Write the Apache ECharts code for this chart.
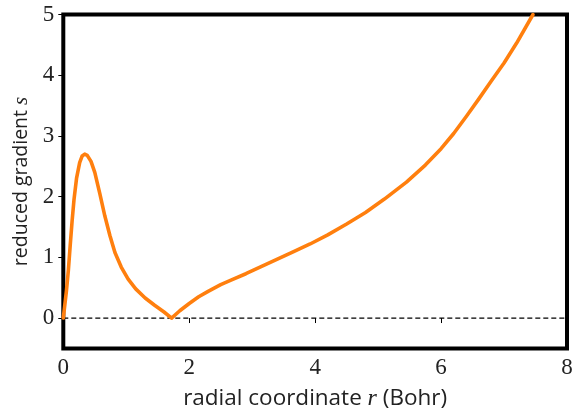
<!DOCTYPE html>
<html>
<head>
<meta charset="utf-8">
<script src="https://cdn.jsdelivr.net/npm/echarts@6/dist/echarts.min.js"></script>
<style>
html,body{margin:0;padding:0;background:#fff;}
#chart{width:585px;height:418px;}
</style>
</head>
<body>
<div id="chart"></div>
<script>
// radial coordinate r (Bohr)
var radius = [0, 0.05, 0.08, 0.11, 0.14, 0.17, 0.21, 0.26, 0.3, 0.34, 0.38, 0.44, 0.5, 0.58,
  0.66, 0.74, 0.82, 0.92, 1.03, 1.15, 1.3, 1.45, 1.6, 1.72,
  1.85, 2.0, 2.15, 2.3, 2.5, 2.7, 2.9, 3.15, 3.4, 3.65, 3.92, 4.2, 4.5, 4.8, 5.1,
  5.45, 5.75, 6.0, 6.2, 6.4, 6.6, 6.8, 7.0, 7.2, 7.46];
// reduced gradient s
var gradient = [0, 0.45, 0.78, 1.2, 1.6, 1.95, 2.3, 2.56, 2.67, 2.70, 2.68, 2.58, 2.40, 2.05,
  1.68, 1.36, 1.08, 0.84, 0.64, 0.48, 0.33, 0.21, 0.1, 0.0,
  0.12, 0.24, 0.35, 0.44, 0.55, 0.64, 0.73, 0.85, 0.97, 1.09, 1.22, 1.37, 1.55, 1.74, 1.96,
  2.24, 2.52, 2.79, 3.04, 3.32, 3.61, 3.91, 4.2, 4.53, 5.0];
var xTicks = [0, 2, 4, 6, 8];
var yTicks = [0, 1, 2, 3, 4, 5];
var baselineR = [0, 8];
var baselineS = [0, 0];

var curve = radius.map(function (r, i) { return [r, gradient[i]]; });
var baseline = baselineR.map(function (r, i) { return [r, baselineS[i]]; });

var chart = echarts.init(document.getElementById('chart'), null, {renderer: 'canvas'});
var tickFont = {fontFamily: 'Liberation Serif', fontSize: 23, color: '#222'};
chart.setOption({
  animation: false,
  backgroundColor: '#fff',
  grid: {left: 63.3, right: 18, top: 14.5, bottom: 69.6, show: true, borderColor: '#000', borderWidth: 4, backgroundColor: 'transparent'},
  xAxis: {
    type: 'value', min: xTicks[0], max: xTicks[xTicks.length - 1], interval: 2,
    axisLine: {show: false},
    axisTick: {show: true, inside: false, length: 5, lineStyle: {color: '#000', width: 1}},
    splitLine: {show: false},
    axisLabel: Object.assign({margin: 8}, tickFont),
    name: 'radial coordinate {i|r} (Bohr)',
    nameLocation: 'middle', nameGap: 38,
    nameTextStyle: {fontFamily: 'Open Sans', fontSize: 22.5, color: '#222',
      rich: {i: {fontFamily: 'Liberation Serif', fontStyle: 'italic', fontSize: 24, color: '#222'}}}
  },
  yAxis: {
    type: 'value', min: -0.5, max: 5,
    axisLine: {show: false},
    axisTick: {show: true, inside: false, length: 5, lineStyle: {color: '#000', width: 1}, customValues: yTicks},
    splitLine: {show: false},
    axisLabel: Object.assign({margin: 9, customValues: yTicks}, tickFont),
    name: 'reduced gradient {i|s}',
    nameLocation: 'middle', nameGap: 25, nameRotate: 90,
    nameTextStyle: {fontFamily: 'Open Sans', fontSize: 19.5, color: '#222',
      rich: {i: {fontFamily: 'Liberation Serif', fontStyle: 'italic', fontSize: 21, color: '#222'}}}
  },
  series: [
    {
      type: 'line', data: baseline, symbol: 'none', silent: true,
      lineStyle: {color: '#000', width: 1.3, type: [5, 3]}, z: 1
    },
    {
      type: 'line', data: curve, symbol: 'none', smooth: false, clip: true,
      lineStyle: {color: '#ff7f0e', width: 3.6, join: 'round', cap: 'round'}, z: 2
    }
  ]
});
</script>
</body>
</html>
